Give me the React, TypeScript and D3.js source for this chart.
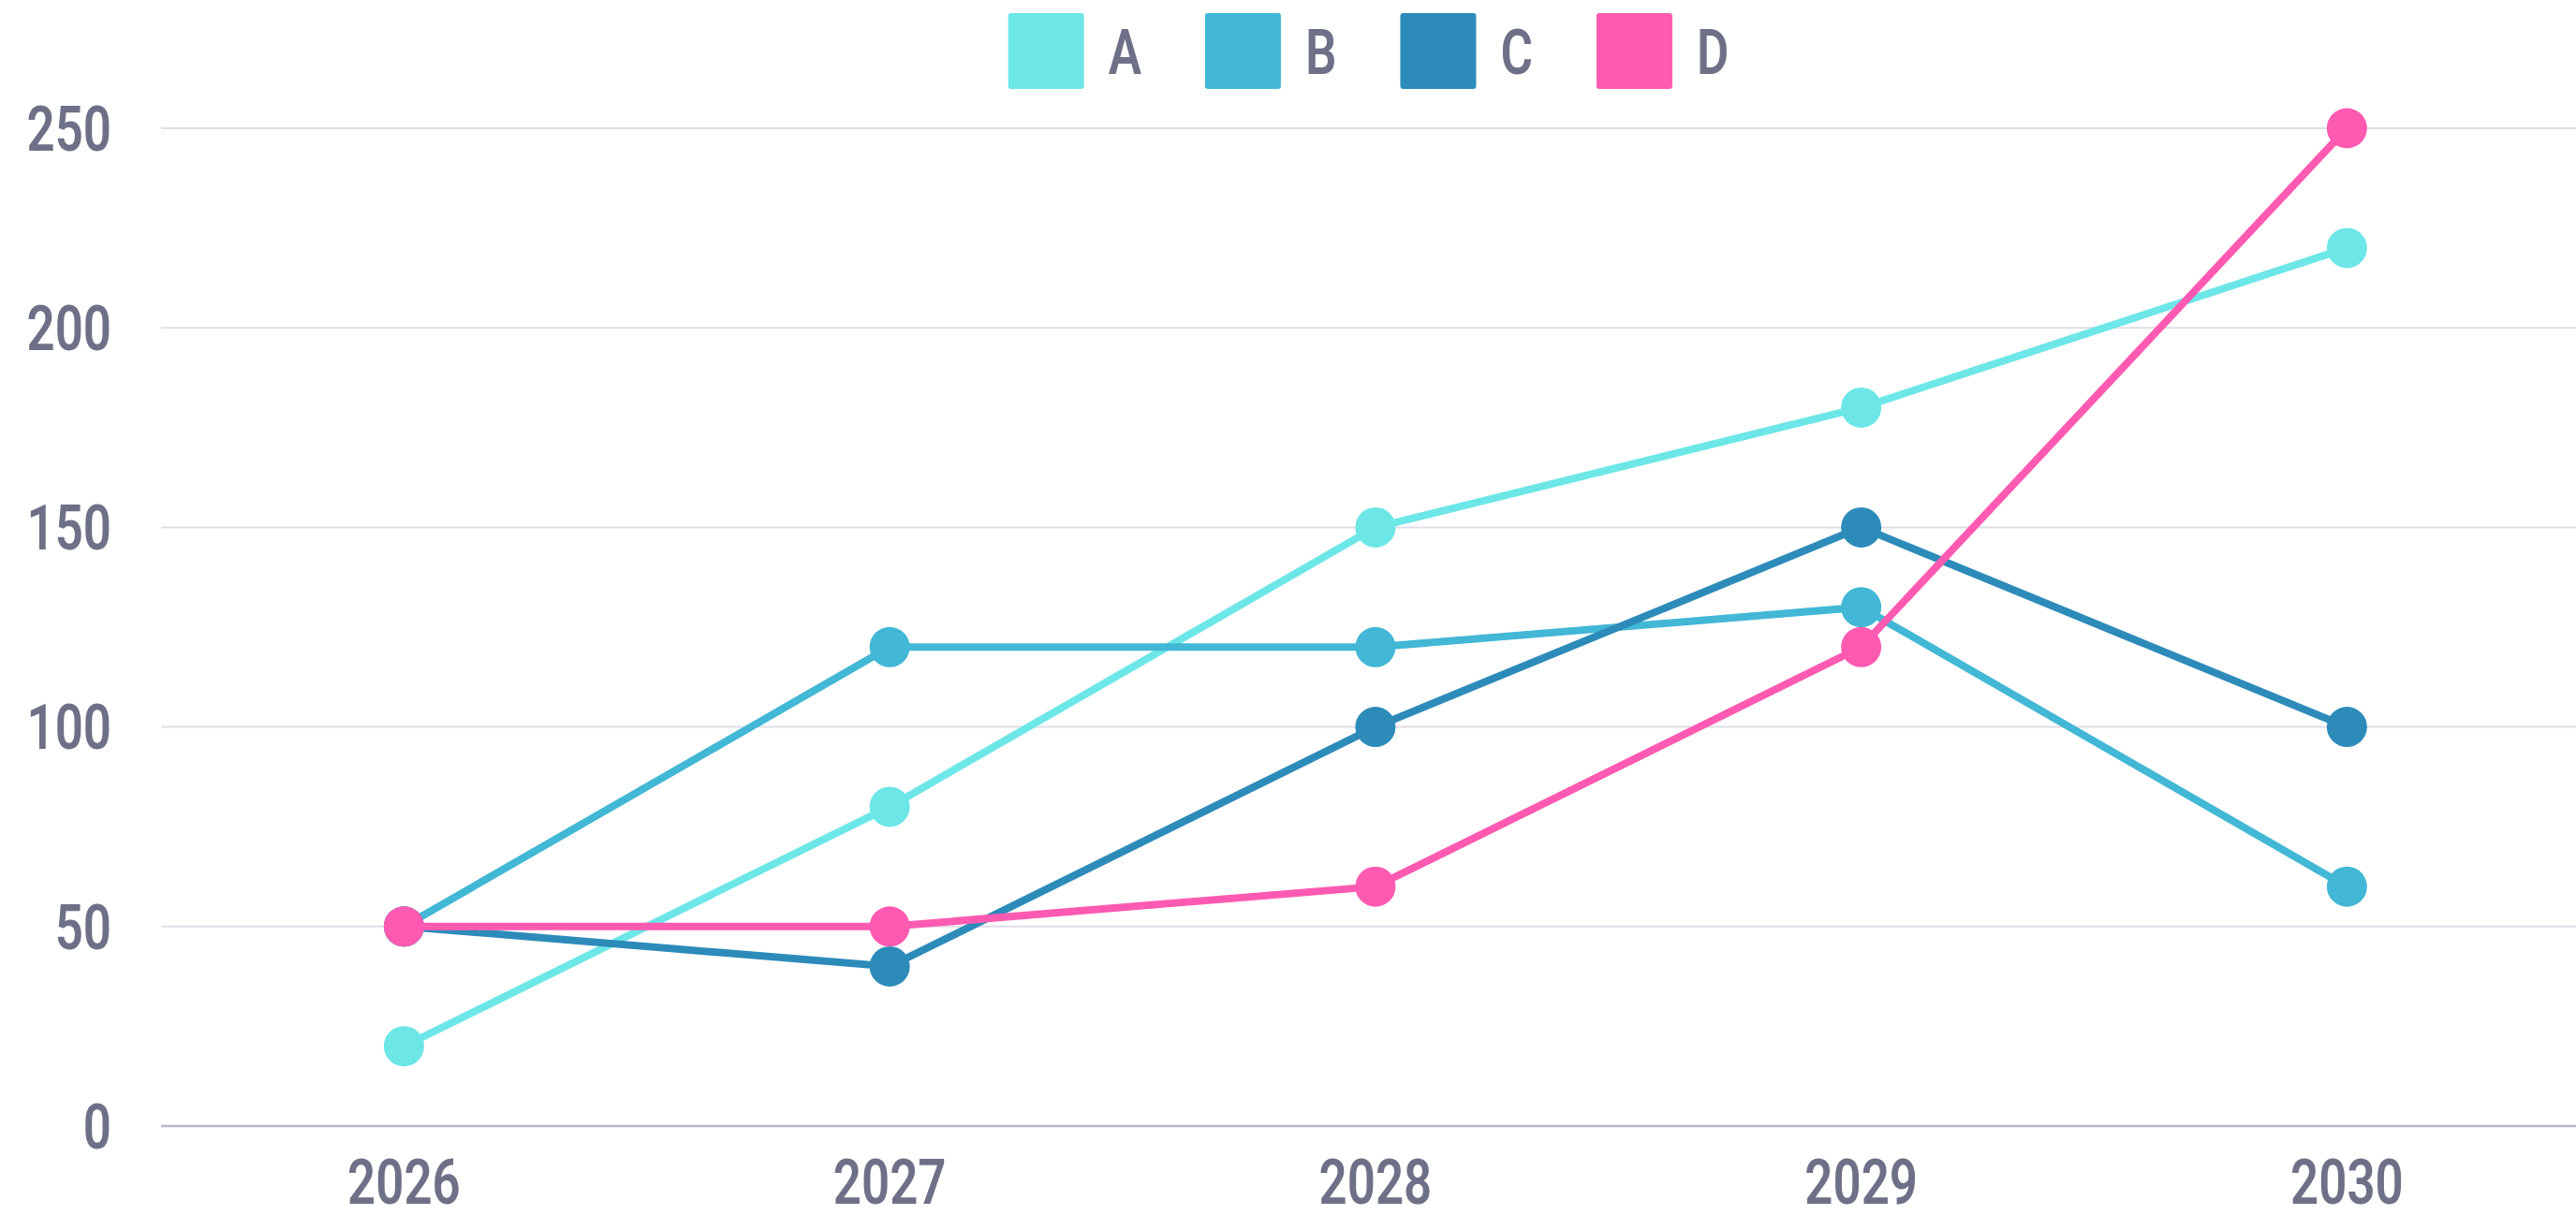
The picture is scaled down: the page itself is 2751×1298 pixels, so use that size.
import React, { useEffect, useRef } from 'react';
import * as d3 from 'd3';

const years = ['2026', '2027', '2028', '2029', '2030'];
const seriesNames = ['A', 'B', 'C', 'D'];
const seriesA = [20, 80, 150, 180, 220];
const seriesB = [50, 120, 120, 130, 60];
const seriesC = [50, 40, 100, 150, 100];
const seriesD = [50, 50, 60, 120, 250];
const yTicks = [0, 50, 100, 150, 200, 250];

const colors = ['#6de6e8', '#42b7d6', '#2d8bba', '#ff5ab1'];
const textColor = '#6e7088';
const font = 'Roboto, "Noto Sans", sans-serif';
const squeeze = 0.8; // the reference uses a narrow DIN-like face

const App = () => {
  const chartRef = useRef<SVGSVGElement>(null);

  useEffect(() => {
    const width = 2751;
    const height = 1298;
    const margin = { top: 137, right: 0, bottom: 95, left: 172 };

    const svg = d3.select(chartRef.current);
    svg.selectAll('*').remove();
    svg.attr('width', width).attr('height', height);

    const x = d3.scaleBand()
      .domain(years)
      .range([margin.left, margin.left + 5 * 518.75]);
    const cx = (i: number) => (x(years[i]) as number) + x.bandwidth() / 2;

    const y = d3.scaleLinear()
      .domain([0, 250])
      .range([height - margin.bottom, margin.top]);

    const label = (sel: any) => sel
      .attr('dy', '0.36em')
      .attr('font-family', font)
      .attr('font-weight', 600)
      .attr('font-size', 66)
      .attr('fill', textColor);

    // grid
    svg.append('g')
      .selectAll('line')
      .data(yTicks.filter(d => d !== 0))
      .enter().append('line')
      .attr('x1', margin.left)
      .attr('x2', width)
      .attr('y1', d => y(d))
      .attr('y2', d => y(d))
      .attr('stroke', '#dfdee6')
      .attr('stroke-width', 2);

    svg.append('line')
      .attr('x1', margin.left)
      .attr('x2', width)
      .attr('y1', y(0))
      .attr('y2', y(0))
      .attr('stroke', '#b8b6c8')
      .attr('stroke-width', 2.5);

    // y labels
    svg.append('g')
      .selectAll('text')
      .data(yTicks)
      .enter().append('text')
      .attr('transform', d => `translate(119,${y(d)}) scale(${squeeze},1)`)
      .attr('text-anchor', 'end')
      .call(label)
      .text(d => d);

    // x labels
    svg.append('g')
      .selectAll('text')
      .data(years)
      .enter().append('text')
      .attr('transform', (d, i) => `translate(${cx(i)},1262) scale(${squeeze},1)`)
      .attr('text-anchor', 'middle')
      .call(label)
      .text(d => d);

    const allSeries = [seriesA, seriesB, seriesC, seriesD];
    const line = d3.line<number>()
      .x((d, i) => cx(i))
      .y(d => y(d));

    allSeries.forEach((values, si) => {
      const g = svg.append('g');
      g.append('path')
        .datum(values)
        .attr('d', line)
        .attr('fill', 'none')
        .attr('stroke', colors[si])
        .attr('stroke-width', 8);
      g.selectAll('circle')
        .data(values)
        .enter().append('circle')
        .attr('cx', (d, i) => cx(i))
        .attr('cy', d => y(d))
        .attr('r', 21.5)
        .attr('fill', colors[si]);
    });

    // legend
    const legend = svg.append('g');
    const items = legend.selectAll('g')
      .data(seriesNames)
      .enter().append('g');
    items.append('rect')
      .attr('width', 81)
      .attr('height', 81)
      .attr('y', 14)
      .attr('rx', 3)
      .attr('fill', (d, i) => colors[i]);
    const labels = items.append('text')
      .attr('transform', `translate(107,55) scale(${squeeze},1)`)
      .call(label)
      .text(d => d);

    let offset = 0;
    const widths: number[] = [];
    labels.each(function () {
      widths.push((this as SVGTextElement).getComputedTextLength() * squeeze);
    });
    const positions = widths.map((w, i) => {
      const p = offset;
      offset += 107 + w + (i < widths.length - 1 ? 68 : 0);
      return p;
    });
    const start = (margin.left + width) / 2 - offset / 2;
    items.attr('transform', (d, i) => `translate(${start + positions[i]},0)`);
  }, []);

  return (
    <svg
      ref={chartRef}
      style={{ position: 'absolute', left: 0, top: 0, background: '#fff' }}
    ></svg>
  );
};

export default App;
